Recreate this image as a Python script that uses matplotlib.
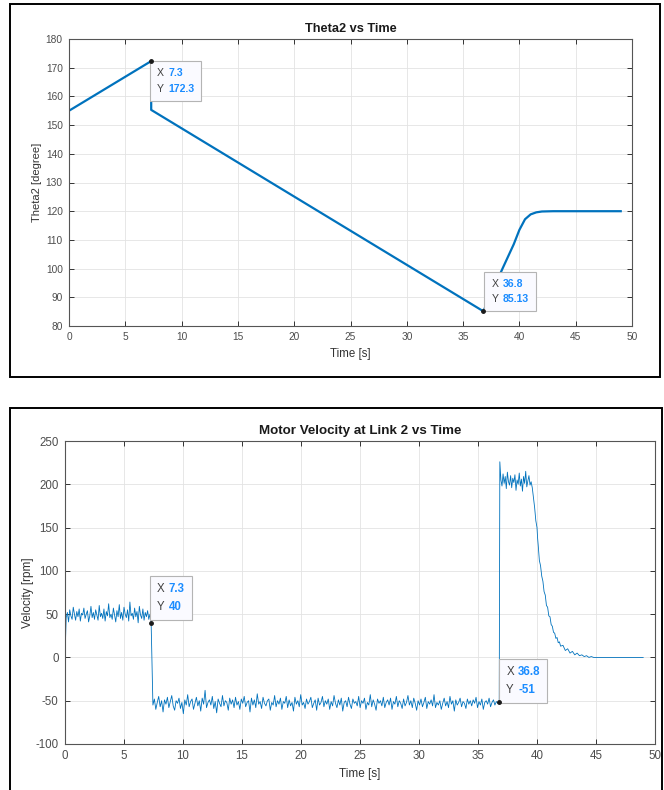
import numpy as np
import matplotlib
matplotlib.use("Agg")
import matplotlib.pyplot as plt
from matplotlib.patches import Rectangle
from matplotlib.offsetbox import TextArea, HPacker, VPacker, AnnotationBbox

plt.rcParams['font.family'] = ['Liberation Sans', 'DejaVu Sans']
plt.rcParams['axes.unicode_minus'] = False

# Theta2 vs Time
theta_t = [0, 7.3, 7.3, 36.8, 38.5, 39.5, 40.0, 40.5, 41.0, 41.5, 42.0, 43.0, 44.0, 49.0]
theta_v = [155, 172.3, 155.3, 85.13, 100, 108.5, 113.5, 117.2, 118.9, 119.6, 119.9, 120, 120, 120]

# Motor velocity: start, +50 plateau, -50 plateau, +200 plateau, decay
vel_a = [0, 46, 52, 41, 55, 48, 44, 58, 50, 43, 53, 47, 56, 42, 51, 49, 57, 45, 50, 54, 41,
         48, 59, 46, 52, 44, 55, 49, 43, 60, 47, 51, 45, 56, 42, 53, 48, 62, 46, 50, 44,
         57, 49, 41, 54, 47, 61, 45, 52, 43, 58, 50, 46, 55, 42, 64, 48, 51, 44, 57, 47,
         53, 40, 59, 49, 45, 56, 43, 52, 47, 54, 44, 50, 40]
vel_b = [-55, -48, -60, -52, -45, -57, -50, -63, -49, -54, -46, -58, -51, -44, -56, -61, -50, -53, -47, -59,
         -52, -65, -49, -55, -43, -57, -51, -48, -60, -53, -46, -56, -50, -62, -47, -54, -38, -58, -52, -49,
         -55, -45, -59, -51, -64, -48, -53, -57, -44, -56, -50, -52, -61, -47, -54, -49, -58, -46, -55, -51,
         -60, -48, -53, -45, -57, -52, -50, -63, -47, -55, -49, -58, -42, -54, -51, -59, -46, -53, -56, -50,
         -48, -61, -52, -55, -44, -57, -50, -54, -47, -60, -51, -53, -45, -58, -49, -56, -52, -62, -46, -54,
         -50, -57, -43, -55, -52, -59, -48, -54, -51, -46, -58, -53, -49, -61, -47, -55, -52, -45, -57, -50,
         -54, -48, -60, -51, -56, -44, -53, -58, -49, -55, -47, -62, -52, -50, -57, -46, -54, -59, -48, -53,
         -51, -56, -45, -58, -50, -53, -47, -60, -52, -55, -43, -57, -49, -54, -61, -48, -53, -50, -56, -46,
         -58, -52, -49, -55, -47, -60, -51, -54, -45, -57, -50, -53, -59, -48, -56, -52, -44, -55, -50, -58,
         -47, -53, -61, -50, -55, -48, -57, -52, -46, -59, -51, -54, -49, -56, -43, -58, -52, -55, -50, -60,
         -53, -47, -56, -51, -58, -45, -54, -50, -62, -49, -55, -52, -47, -57, -51, -53, -59, -48, -54, -50,
         -56, -49, -53, -46, -58, -51, -55, -48, -60, -52, -50, -54, -47, -57, -52, -49, -55, -51, -53, -51]
vel_c = [226, 205, 198, 212, 201, 209, 195, 214, 203, 199, 210, 196, 207, 202, 211, 193, 205, 200,
         213, 198, 206, 192, 209, 201, 215, 197, 204, 210, 199, 203]
decay_t = [39.6, 39.7, 39.8, 39.9, 40.0, 40.05, 40.1, 40.2, 40.3, 40.4, 40.5, 40.6, 40.7, 40.8, 40.9,
           41.0, 41.1, 41.2, 41.3, 41.4, 41.5, 41.6, 41.7, 41.8, 41.9, 42.0, 42.2, 42.4, 42.6, 42.8,
           43.0, 43.2, 43.4, 43.6, 43.8, 44.0, 44.2, 44.4, 44.6, 44.8, 45.0, 49.0]
decay_v = [196, 184, 173, 158, 150, 138, 130, 112, 106, 94, 88, 76, 72, 60, 58, 48, 47, 38, 36, 29,
           28, 22, 23, 17, 18, 13, 14, 8, 10, 5, 7, 3, 5, 2, 3, 1, 2, 0, 1, 0, 0, 0]

vel_t = np.concatenate([np.linspace(0, 7.3, len(vel_a)),
                        np.linspace(7.45, 36.8, len(vel_b)),
                        np.linspace(36.85, 39.5, len(vel_c)),
                        decay_t])
vel_v = np.concatenate([vel_a, vel_b, vel_c, decay_v])

blue = '#0072BD'
W, H = 664, 790
fig = plt.figure(figsize=(W / 100, H / 100), dpi=100)


def px_axes(x0, y0, x1, y1):
    return fig.add_axes([x0 / W, 1 - y1 / H, (x1 - x0) / W, (y1 - y0) / H])


def style(ax, fs):
    ax.grid(True, color='#e3e3e3', lw=0.6)
    ax.set_axisbelow(True)
    for s in ax.spines.values():
        s.set_color('#555555')
        s.set_linewidth(0.8)
    ax.tick_params(direction='in', top=True, right=True, length=3.5, width=0.7,
                   colors='#333333', labelsize=fs, labelcolor='#4d4d4d', pad=4.5)


def datatip(ax, x, y, xs, ys, off, align, fs):
    rows = []
    for k, v in (('X', xs), ('Y', ys)):
        rows.append(HPacker(children=[
            TextArea(k, textprops=dict(color='#404040', size=fs)),
            TextArea(v, textprops=dict(color='#1a8cff', size=fs, weight='bold'))],
            pad=0, sep=3))
    box = VPacker(children=rows, pad=0, sep=4)
    ab = AnnotationBbox(box, (x, y), xybox=off, boxcoords='offset pixels',
                        box_alignment=align, frameon=True, pad=0.5,
                        bboxprops=dict(fc='#fafaff', ec='#b4b4b4', lw=0.8))
    ax.add_artist(ab)
    ax.plot(x, y, 'o', color='#1a1a1a', ms=2.5, zorder=5)


# panel frames
fig.patches.append(Rectangle((10 / W, 1 - 377 / H), 650 / W, 373 / H, transform=fig.transFigure,
                             fill=False, ec='black', lw=1.4))
fig.patches.append(Rectangle((10 / W, 1 - 792 / H), 652 / W, 384 / H, transform=fig.transFigure,
                             fill=False, ec='black', lw=1.4))

# top chart
ax1 = px_axes(69, 39, 632, 326)
ax1.plot(theta_t, theta_v, color=blue, lw=1.6)
ax1.set_xlim(0, 50)
ax1.set_ylim(80, 180)
ax1.set_xticks(range(0, 51, 5))
ax1.set_yticks(range(80, 181, 10))
style(ax1, 7.3)
ax1.set_title('Theta2 vs Time', fontsize=9.2, weight='bold', color='#1a1a1a', pad=5)
ax1.set_xlabel('Time [s]', fontsize=8.3, color='#333333', labelpad=4)
ax1.set_ylabel('Theta2 [degree]', fontsize=8, color='#333333', labelpad=3)
datatip(ax1, 7.3, 172.3, '7.3', '172.3', (6, -7), (0, 1), 7.6)
datatip(ax1, 36.8, 85.13, '36.8', '85.13', (8, 7), (0, 0), 7.6)

# bottom chart
ax2 = px_axes(65, 441, 655, 744)
ax2.plot(vel_t, vel_v, color=blue, lw=0.6)
ax2.set_xlim(0, 50)
ax2.set_ylim(-100, 250)
ax2.set_xticks(range(0, 51, 5))
ax2.set_yticks(range(-100, 251, 50))
style(ax2, 8.3)
ax2.set_title('Motor Velocity at Link 2 vs Time', fontsize=9.6, weight='bold', color='#1a1a1a', pad=5)
ax2.set_xlabel('Time [s]', fontsize=8.5, color='#333333', labelpad=4)
ax2.set_ylabel('Velocity [rpm]', fontsize=8.5, color='#333333', labelpad=1)
datatip(ax2, 7.3, 40, '7.3', '40', (6, 10), (0, 0), 8.3)
datatip(ax2, 36.8, -51, '36.8', '-51', (7, 6), (0, 0), 8.3)

fig.savefig('out.png', dpi=100)
